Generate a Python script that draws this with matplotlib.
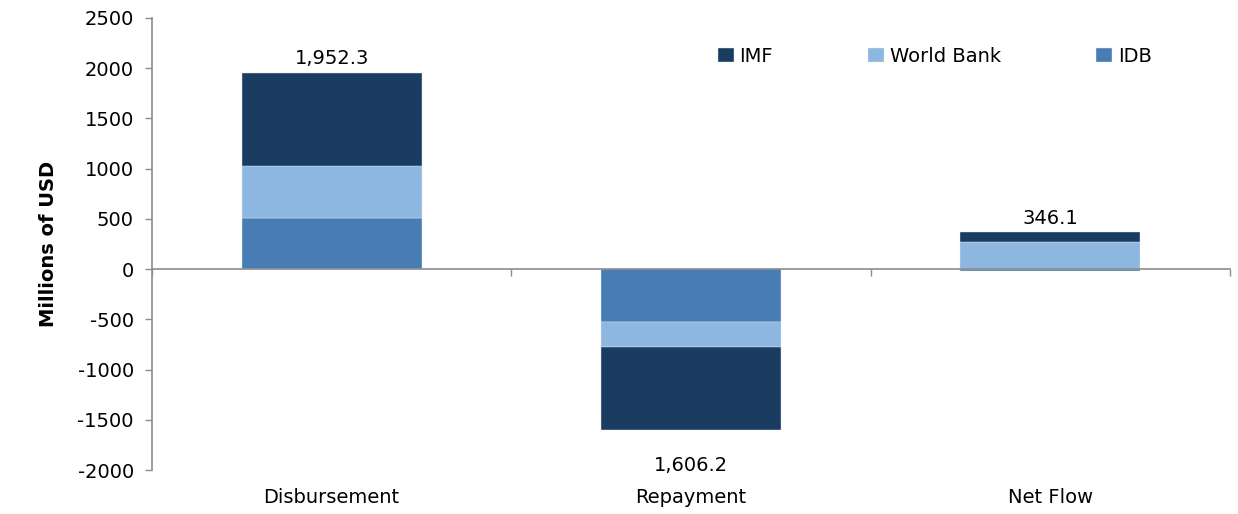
import matplotlib.pyplot as plt
import matplotlib.transforms as mtransforms
import numpy as np

# Chart data (millions of USD)
categories = ["Disbursement", "Repayment", "Net Flow"]
imf = [926.3, -829.2, 97.1]
world_bank = [518.0, -249.0, 269.0]
idb = [508.0, -528.0, -20.0]
totals = [1952.3, -1606.2, 346.1]
total_labels = ["1,952.3", "1,606.2", "346.1"]

COLORS = {"IMF": "#1a3c61", "World Bank": "#8db6e1", "IDB": "#477db3"}
AXIS_GREY = "#8c8c8c"
FS = 14


def main():
    plt.rcParams['font.family'] = ['DejaVu Sans']
    plt.rcParams['axes.unicode_minus'] = False
    fig = plt.figure(figsize=(12.38, 5.14), dpi=100)
    ax = fig.add_axes([0.1228, 0.0856, 0.8707, 0.8794])

    x = np.arange(len(categories))
    width = 0.5

    # stack positives and negatives separately, bottom-up: IDB, World Bank, IMF
    pos_base = np.zeros(len(categories))
    neg_base = np.zeros(len(categories))
    handles = {}
    for name, vals in [("IDB", idb), ("World Bank", world_bank), ("IMF", imf)]:
        vals = np.array(vals)
        base = np.where(vals >= 0, pos_base, neg_base)
        bars = ax.bar(x, vals, width, bottom=base, color=COLORS[name],
                      edgecolor="#dfe8f2", linewidth=0.3)
        handles[name] = bars
        pos_base = pos_base + np.where(vals >= 0, vals, 0)
        neg_base = neg_base + np.where(vals < 0, vals, 0)

    # total labels
    for i, lab in enumerate(total_labels):
        if totals[i] >= 0:
            ax.text(x[i], pos_base[i] + 45, lab, ha="center", va="bottom", fontsize=FS)
        else:
            ax.text(x[i], neg_base[i] - 250, lab, ha="center", va="top", fontsize=FS)

    ax.set_xlim(-0.5, len(categories) - 0.5)
    ax.set_ylim(-2000, 2500)
    ax.set_yticks(np.arange(-2000, 2501, 500))
    ax.tick_params(axis="y", labelsize=FS, direction="out", length=5,
                   color=AXIS_GREY, width=1, pad=8)

    # x axis sits at zero, ticks on category boundaries
    ax.spines["bottom"].set_position(("data", 0))
    ax.spines["top"].set_visible(False)
    ax.spines["right"].set_visible(False)
    ax.spines["left"].set_color(AXIS_GREY)
    ax.spines["bottom"].set_color(AXIS_GREY)
    ax.spines["left"].set_linewidth(1.2)
    ax.spines["bottom"].set_linewidth(1.2)
    ax.set_xticks(np.arange(-0.5, len(categories)))
    ax.set_xticklabels([])
    ax.tick_params(axis="x", direction="out", length=5, color=AXIS_GREY, width=1)

    # category labels along the bottom
    trans = mtransforms.blended_transform_factory(ax.transData, ax.transAxes)
    for i, cat in enumerate(categories):
        ax.text(x[i], -0.04, cat, transform=trans, ha="center", va="top", fontsize=FS)

    ax.set_ylabel("Millions of USD", fontsize=FS, fontweight="bold", labelpad=14)

    ax.legend([handles["IMF"], handles["World Bank"], handles["IDB"]],
              ["IMF", "World Bank", "IDB"], loc="upper left",
              bbox_to_anchor=(0.509, 0.975), ncol=3, frameon=False, fontsize=FS,
              handlelength=0.8, handleheight=0.8, handletextpad=0.3,
              columnspacing=4.9)

    fig.savefig("out.png", dpi=100)


if __name__ == "__main__":
    main()
